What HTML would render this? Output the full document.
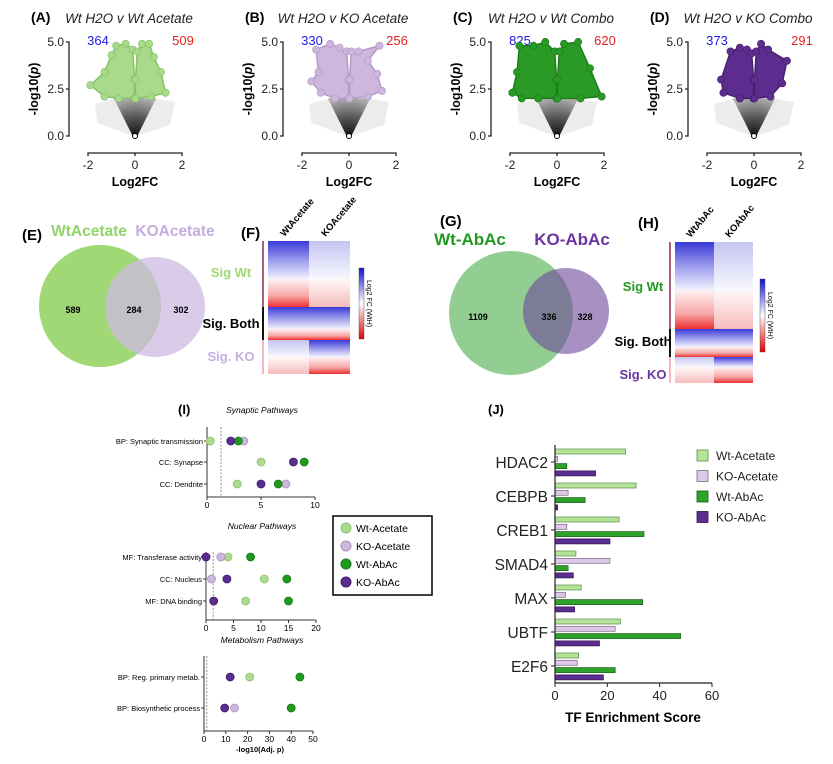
<!DOCTYPE html>
<html><head><meta charset="utf-8"><style>
body{margin:0;background:#fff;}
svg{display:block;font-family:"Liberation Sans",Arial,sans-serif;}
</style></head><body>
<svg id="fig" width="833" height="764" viewBox="0 0 833 764">
<defs>
<linearGradient id="bw" x1="0" y1="0" x2="0" y2="1"><stop offset="0" stop-color="#3a3ad8"/><stop offset="0.5" stop-color="#9a9aec"/><stop offset="1" stop-color="#f2f2ff"/></linearGradient>
<linearGradient id="wr" x1="0" y1="0" x2="0" y2="1"><stop offset="0" stop-color="#fff2f2"/><stop offset="0.6" stop-color="#f7a8a8"/><stop offset="1" stop-color="#ec3030"/></linearGradient>
<linearGradient id="pb" x1="0" y1="0" x2="0" y2="1"><stop offset="0" stop-color="#c4c4f2"/><stop offset="1" stop-color="#f8f8ff"/></linearGradient>
<linearGradient id="pr" x1="0" y1="0" x2="0" y2="1"><stop offset="0" stop-color="#fff8f8"/><stop offset="1" stop-color="#f6bcbc"/></linearGradient>
<linearGradient id="cb" x1="0" y1="0" x2="0" y2="1"><stop offset="0" stop-color="#1010d0"/><stop offset="0.5" stop-color="#ffffff"/><stop offset="1" stop-color="#e00000"/></linearGradient>
<radialGradient id="blk" cx="0.5" cy="1" r="1"><stop offset="0" stop-color="#111"/><stop offset="0.5" stop-color="#555"/><stop offset="1" stop-color="#aaa"/></radialGradient>
</defs>
<g id="volcanoes"></g>
<g id="venns"></g>
<g id="dots"></g>
<g id="bars"></g>
</svg>
<script>
const NS="http://www.w3.org/2000/svg";
function mk(parent,tag,attrs,text){const e=document.createElementNS(NS,tag);for(const k in attrs)e.setAttribute(k,attrs[k]);if(text!==undefined)e.textContent=text;parent.appendChild(e);return e;}

// ---------- Volcano data ----------
const volcanoTitles=["Wt H2O v Wt Acetate","Wt H2O v KO Acetate","Wt H2O v Wt Combo","Wt H2O v KO Combo"];
const volcanoLetters=["(A)","(B)","(C)","(D)"];
const volcanoDown=[364,330,825,373];
const volcanoUp=[509,256,620,291];
const volcanoLeftWing=[
 [[-0.02,2],[-0.7,2],[-1.3,2.1],[-1.9,2.7],[-1.3,3.4],[-1.0,4.3],[-0.8,4.8],[-0.4,4.9],[-0.1,4.6],[-0.02,3]],
 [[-0.02,2],[-0.6,2],[-1.2,2.3],[-1.6,2.9],[-1.3,3.4],[-1.4,4.6],[-0.8,4.9],[-0.4,4.7],[-0.1,4.5],[-0.02,3]],
 [[-0.02,2],[-0.8,2],[-1.5,2],[-1.9,2.3],[-1.7,3.4],[-1.6,4.8],[-1.0,4.8],[-0.5,5],[-0.1,4.5],[-0.02,3]],
 [[-0.02,2],[-0.6,2],[-1.3,2.3],[-1.4,3],[-1.0,4.5],[-0.6,4.7],[-0.3,4.6],[-0.1,4.4],[-0.02,3]]
];
const volcanoRightWing=[
 [[0.02,2],[0.7,2.1],[1.3,2.3],[1.1,3.4],[0.8,4.2],[0.6,4.9],[0.3,4.9],[0.1,4.5],[0.02,3]],
 [[0.02,2],[0.8,2.1],[1.4,2.4],[1.2,3.3],[0.8,4.0],[1.3,4.8],[0.4,4.5],[0.1,4.5],[0.02,3]],
 [[0.02,2],[1.0,2],[1.9,2.1],[1.4,3.6],[0.9,5],[0.3,4.9],[0.1,4.5],[0.02,3]],
 [[0.02,2],[0.7,2.1],[1.2,2.8],[1.4,4.0],[0.6,4.6],[0.3,4.9],[0.1,4.5],[0.02,3]]
];
const volcanoX=[69,283,491,688];
const volcanoFill=["#a9d98b","#cdb7dc","#2a9a26","#5e2d90"];
const volcanoStroke=["#86c265","#b49ac8","#1d7d1a","#45206f"];

const vg=document.getElementById('volcanoes');
for(let i=0;i<4;i++){
 const ax=volcanoX[i], x0=ax+19, x1=ax+113, top=42, bot=136;
 const sx=v=>x0+(v+2)/4*(x1-x0), sy=v=>bot-(v/5)*(bot-top);
 const g=mk(vg,'g',{});
 
 
 let t=mk(g,'text',{x:ax-38,y:22,'font-size':14,'font-weight':'bold'},volcanoLetters[i]);
 
 t=mk(g,'text',{x:ax+60,y:23,'font-size':13.5,'font-style':'italic','text-anchor':'middle',fill:'#222'},volcanoTitles[i]);
 
 t=mk(g,'text',{x:ax+29,y:45,'font-size':13,fill:'#1a1ae6','text-anchor':'middle'},volcanoDown[i]);
 
 t=mk(g,'text',{x:ax+114,y:45,'font-size':13,fill:'#e62020','text-anchor':'middle'},volcanoUp[i]);
 
 const cloud=[[-0.9,2],[0.9,2],[0.1,0],[-0.1,0]];
 const c=mk(g,'polygon',{points:[[-1.7,1.7],[-1.6,0.7],[-0.1,0],[0.1,0],[1.5,0.6],[1.7,1.8],[0.8,2],[-0.8,2]].map(p=>sx(p[0])+','+sy(p[1])).join(' '),fill:'#ececec'});
 
 const b=mk(g,'polygon',{points:cloud.map(p=>sx(p[0])+','+sy(p[1])).join(' '),fill:'url(#blk)'});
 
 [volcanoLeftWing[i],volcanoRightWing[i]].forEach((w,k)=>{
  const p=mk(g,'polygon',{points:w.map(q=>sx(q[0])+','+sy(q[1])).join(' '),fill:volcanoFill[i],stroke:volcanoStroke[i],'stroke-width':1.5,'stroke-linejoin':'round'});
  
  w.forEach(q=>{const d=mk(g,'circle',{cx:sx(q[0]),cy:sy(q[1]),r:3.6,fill:volcanoFill[i],stroke:volcanoStroke[i],'stroke-width':0.7});
   });
 });
 mk(g,'circle',{cx:sx(0),cy:sy(0),r:2.5,fill:'#fff',stroke:'#000'});
 const ya=mk(g,'path',{d:`M${ax-3},${top}H${ax}V${bot}H${ax-3}M${ax-3},${(top+bot)/2}H${ax}`,stroke:'#222',fill:'none','stroke-width':1.3});
 
 [0,2.5,5].forEach(v=>{const tt=mk(g,'text',{x:ax-5,y:sy(v)+4,'font-size':12,'text-anchor':'end',fill:'#222'},v.toFixed(1));});
 const xa=mk(g,'path',{d:`M${x0},156V153H${x1}V156M${sx(0)},153V156`,stroke:'#222',fill:'none','stroke-width':1.3});
 
 [-2,0,2].forEach(v=>{const tt=mk(g,'text',{x:sx(v),y:169,'font-size':12,'text-anchor':'middle',fill:'#222'},v);});
 t=mk(g,'text',{x:sx(0),y:186,'font-size':12.5,'font-weight':'bold','text-anchor':'middle'},'Log2FC');
 
 t=mk(g,'text',{x:0,y:0,'font-size':12.5,'font-weight':'bold','text-anchor':'middle',transform:`translate(${ax-31},${(top+bot)/2}) rotate(-90)`},'-log10(');
 
 mk(t,'tspan',{'font-style':'italic'},'p');mk(t,'tspan',{},')');
}

// ---------- Venns & heatmaps ----------
const vennLabelsA=["WtAcetate","KOAcetate"];
const vennCountsA=[589,284,302];
const vennLabelsB=["Wt-AbAc","KO-AbAc"];
const vennCountsB=[1109,336,328];
const vn=document.getElementById('venns');
function venn(cfg){
 const g=mk(vn,'g',{});
 
 let e=mk(g,'circle',{cx:cfg.c1[0],cy:cfg.c1[1],r:cfg.c1[2],fill:cfg.f1});
 
 e=mk(g,'circle',{cx:cfg.c2[0],cy:cfg.c2[1],r:cfg.c2[2],fill:cfg.f2});
 
 cfg.counts.forEach((n,k)=>{const t=mk(g,'text',{x:cfg.cx[k],y:cfg.ly,'font-size':9,'font-weight':'bold','text-anchor':'middle'},n);});
 cfg.labels.forEach((s,k)=>{const t=mk(g,'text',{x:cfg.lx[k],y:cfg.ty,'font-size':cfg.ts,'font-weight':'bold','text-anchor':'middle',fill:cfg.lc[k]},s);});
 const t=mk(g,'text',{x:cfg.letter[1],y:cfg.letter[2],'font-size':15,'font-weight':'bold'},cfg.letter[0]);
 
}
venn({name:'venn-acetate',c1:[100,306,61],c2:[155,307,50],f1:'#9fd874',f2:'rgba(205,185,225,0.75)',counts:vennCountsA,cx:[73,134,181],ly:313,labels:vennLabelsA,lx:[89,175],ty:236,ts:15.5,lc:['#8fd46a','#c4aee0'],letter:['(E)',22,240]});
venn({name:'venn-abac',c1:[511,313,62],c2:[566,311,43],f1:'rgba(110,190,110,0.75)',f2:'rgba(110,70,155,0.6)',counts:vennCountsB,cx:[478,549,585],ly:320,labels:vennLabelsB,lx:[470,572],ty:245,ts:17,lc:['#1f9a1f','#6a35a0'],letter:['(G)',440,226]});

function heat(cfg){
 const g=mk(vn,'g',{});
 
 const [x0,xm,x1]=cfg.x, ys=cfg.y;
 const L=[[ys[0],ys[1],'url(#bw)'],[ys[1],ys[2],'url(#wr)'],[ys[2],ys[3],'url(#bw)'],[ys[3],ys[4],'url(#wr)'],[ys[4],ys[5],'url(#pb)'],[ys[5],ys[6],'url(#pr)']];
 const R=[[ys[0],ys[1],'url(#pb)'],[ys[1],ys[2],'url(#pr)'],[ys[2],ys[3],'url(#bw)'],[ys[3],ys[4],'url(#wr)'],[ys[4],ys[5],'url(#bw)'],[ys[5],ys[6],'url(#wr)']];
 L.forEach(r=>{const e=mk(g,'rect',{x:x0,y:r[0],width:xm-x0,height:r[1]-r[0],fill:r[2]});});
 R.forEach(r=>{const e=mk(g,'rect',{x:xm,y:r[0],width:x1-xm,height:r[1]-r[0],fill:r[2]});});
 [[ys[0],ys[2],'#a8607e'],[ys[2],ys[4],'#111'],[ys[4],ys[6],'#f0b8c8']].forEach(r=>{const e=mk(g,'rect',{x:x0-6,y:r[0],width:2,height:r[1]-r[0],fill:r[2]});});
 cfg.rows.forEach(r=>{const t=mk(g,'text',{x:cfg.rx,y:r[1],'font-size':r[3],'font-weight':'bold','text-anchor':'middle',fill:r[2]},r[0]);});
 cfg.cols.forEach((s,k)=>{const cx=k?(xm+x1)/2:(x0+xm)/2;const t=mk(g,'text',{x:0,y:0,'font-size':9.5,'font-weight':'bold',transform:`translate(${cx-4},${ys[0]-4}) rotate(-50)`},s);});
 const cb=mk(g,'rect',{x:cfg.cb[0],y:cfg.cb[1],width:5,height:cfg.cb[2],fill:'url(#cb)',stroke:'#444','stroke-width':0.4});
 
 const t=mk(g,'text',{x:0,y:0,'font-size':7,transform:`translate(${cfg.cb[0]+8},${cfg.cb[1]+cfg.cb[2]/2}) rotate(90)`,'text-anchor':'middle'},'Log2 FC (WtH)');
 
 const l=mk(g,'text',{x:cfg.letter[1],y:cfg.letter[2],'font-size':15,'font-weight':'bold'},cfg.letter[0]);
 
}
heat({name:'heatmap-acetate',x:[268,309,350],y:[241,279,307,329,340,357,374],rx:231,rows:[['Sig Wt',277,'#9fd874',13],['Sig. Both',328,'#000',13],['Sig. KO',361,'#c4aee0',13]],cols:['WtAcetate','KOAcetate'],cb:[359,268,71],letter:['(F)',241,238]});
heat({name:'heatmap-abac',x:[675,714,753],y:[242,290,329,347,357,367,383],rx:643,rows:[['Sig Wt',291,'#1f9a1f',13],['Sig. Both',346,'#000',13],['Sig. KO',379,'#6a35a0',13]],cols:['WtAbAc','KOAbAc'],cb:[760,279,73],letter:['(H)',638,228]});

// ---------- Dot plot (I) ----------
const dotSeries=["Wt-Acetate","KO-Acetate","Wt-AbAc","KO-AbAc"];
const dotFill=["#acdb8f","#cdb7dc","#1f9a1f","#5b2d8e"];
const dotStroke=["#8cc26c","#a992bb","#157a15","#401c6c"];
const synCats=["BP: Synaptic transmission","CC: Synapse","CC: Dendrite"];
const synWtAc=[0.3,5,2.8];
const synKOAc=[3.4,null,7.3];
const synWtAbAc=[2.9,9,6.6];
const synKOAbAc=[2.2,8,5];
const nucCats=["MF: Transferase activity","CC: Nucleus","MF: DNA binding"];
const nucWtAc=[4,10.6,7.2];
const nucKOAc=[2.7,1,null];
const nucWtAbAc=[8.1,14.7,15];
const nucKOAbAc=[0,3.8,1.4];
const metCats=["BP: Reg. primary metab.","BP: Biosynthetic process"];
const metWtAc=[21,null];
const metKOAc=[null,14];
const metWtAbAc=[44,40];
const metKOAbAc=[12,9.5];
const synTicks=[0,5,10],nucTicks=[0,5,10,15,20],metTicks=[0,10,20,30,40,50];

const dg=document.getElementById('dots');
let tl=mk(dg,'text',{x:178,y:414,'font-size':13,'font-weight':'bold'},'(I)');

function dotPanel(cfg){
 const g=mk(dg,'g',{});
 
 const sx=v=>cfg.x0+v/cfg.max*(cfg.x1-cfg.x0);
 let t=mk(g,'text',{x:cfg.tx,y:cfg.ty,'font-size':8.5,'font-style':'italic','text-anchor':'middle'},cfg.title);
 
 const ax=mk(g,'path',{d:`M${cfg.x0},${cfg.top}V${cfg.bot}H${cfg.x1}`,stroke:'#333',fill:'none','stroke-width':1});
 
 const dl=mk(g,'line',{x1:sx(1.3),x2:sx(1.3),y1:cfg.top,y2:cfg.bot,stroke:'#777','stroke-dasharray':'2,1.5','stroke-width':0.8});
 
 cfg.ticks.forEach(v=>{mk(g,'line',{x1:sx(v),x2:sx(v),y1:cfg.bot,y2:cfg.bot+3,stroke:'#333'});const tt=mk(g,'text',{x:sx(v),y:cfg.bot+11,'font-size':8.5,'text-anchor':'middle'},v);});
 cfg.cats.forEach((c,k)=>{const y=cfg.rows[k];mk(g,'line',{x1:cfg.x0-3,x2:cfg.x0,y1:y,y2:y,stroke:'#333'});const tt=mk(g,'text',{x:cfg.x0-4,y:y+3,'font-size':7.5,'text-anchor':'end'},c);
  cfg.vals.forEach((arr,s)=>{if(arr[k]==null)return;const d=mk(g,'circle',{cx:sx(arr[k]),cy:y,r:4,fill:dotFill[s],stroke:dotStroke[s],'stroke-width':0.8});});
 });
}
dotPanel({name:'synaptic-pathways',title:'Synaptic Pathways',tx:262,ty:413,x0:207,x1:315,max:10,top:427,bot:497,rows:[441,462,484],cats:synCats,vals:[synWtAc,synKOAc,synWtAbAc,synKOAbAc],ticks:synTicks});
dotPanel({name:'nuclear-pathways',title:'Nuclear Pathways',tx:262,ty:529,x0:206,x1:316,max:20,top:552,bot:620,rows:[557,579,601],cats:nucCats,vals:[nucWtAc,nucKOAc,nucWtAbAc,nucKOAbAc],ticks:nucTicks});
dotPanel({name:'metabolism-pathways',title:'Metabolism Pathways',tx:262,ty:643,x0:204,x1:313,max:50,top:656,bot:731,rows:[677,708],cats:metCats,vals:[metWtAc,metKOAc,metWtAbAc,metKOAbAc],ticks:metTicks});
tl=mk(dg,'text',{x:260,y:752,'font-size':7.5,'font-weight':'bold','text-anchor':'middle'},'-log10(Adj. p)');

const lg=mk(dg,'g',{});
mk(lg,'rect',{x:333,y:516,width:99,height:79,fill:'#fff',stroke:'#000','stroke-width':1.5});
dotSeries.forEach((s,k)=>{const y=528+k*18;mk(lg,'circle',{cx:346,cy:y,r:5,fill:dotFill[k],stroke:dotStroke[k]});const tt=mk(lg,'text',{x:356,y:y+4,'font-size':10.5},s);});

// ---------- Bar chart (J) ----------
const tfNames=["HDAC2","CEBPB","CREB1","SMAD4","MAX","UBTF","E2F6"];
const tfWtAc=[27,31,24.5,8,10,25,9];
const tfKOAc=[1,5,4.5,21,4,23,8.5];
const tfWtAbAc=[4.5,11.5,34,5,33.5,48,23];
const tfKOAbAc=[15.5,1,21,7,7.5,17,18.5];
const tfTicks=[0,20,40,60];
const barFill=["#b5e39a","#ddc8e8","#2ea22a","#5c2d91"];
const barStroke=["#5d8a45","#7a6a86","#145c12","#2d124d"];
const bg=document.getElementById('bars');
const bx0=555,bx1=712,bTop=445,bBot=683,gp=34;
const bsx=v=>bx0+v/60*(bx1-bx0);
tl=mk(bg,'text',{x:488,y:414,'font-size':13,'font-weight':'bold'},'(J)');

[tfWtAc,tfKOAc,tfWtAbAc,tfKOAbAc].forEach((arr,s)=>{arr.forEach((v,k)=>{
 const y=bTop+4+k*gp+s*7.3;
 const r=mk(bg,'rect',{x:bsx(0),y:y,width:bsx(v)-bsx(0),height:5,fill:barFill[s],stroke:barStroke[s],'stroke-width':0.7});
 
});});
const bax=mk(bg,'path',{d:`M${bx0},${bTop}V${bBot}H${bx1}`,stroke:'#222',fill:'none','stroke-width':1.2});

tfNames.forEach((n,k)=>{const y=bTop+17+k*gp;mk(bg,'line',{x1:bx0-4,x2:bx0,y1:y,y2:y,stroke:'#222'});const t=mk(bg,'text',{x:bx0-7,y:y+6,'font-size':15.5,'text-anchor':'end',fill:'#222'},n);});
tfTicks.forEach(v=>{mk(bg,'line',{x1:bsx(v),x2:bsx(v),y1:bBot,y2:bBot+4,stroke:'#222'});const t=mk(bg,'text',{x:bsx(v),y:bBot+17,'font-size':13,'text-anchor':'middle',fill:'#222'},v);});
tl=mk(bg,'text',{x:633,y:722,'font-size':13.5,'font-weight':'bold','text-anchor':'middle'},'TF Enrichment Score');

dotSeries.forEach((s,k)=>{const y=450+k*20.5;const r=mk(bg,'rect',{x:697,y:y,width:11,height:11,fill:barFill[k],stroke:barStroke[k],'stroke-width':0.8});const t=mk(bg,'text',{x:716,y:y+10,'font-size':12,fill:'#222'},s);});
</script>
</body></html>
